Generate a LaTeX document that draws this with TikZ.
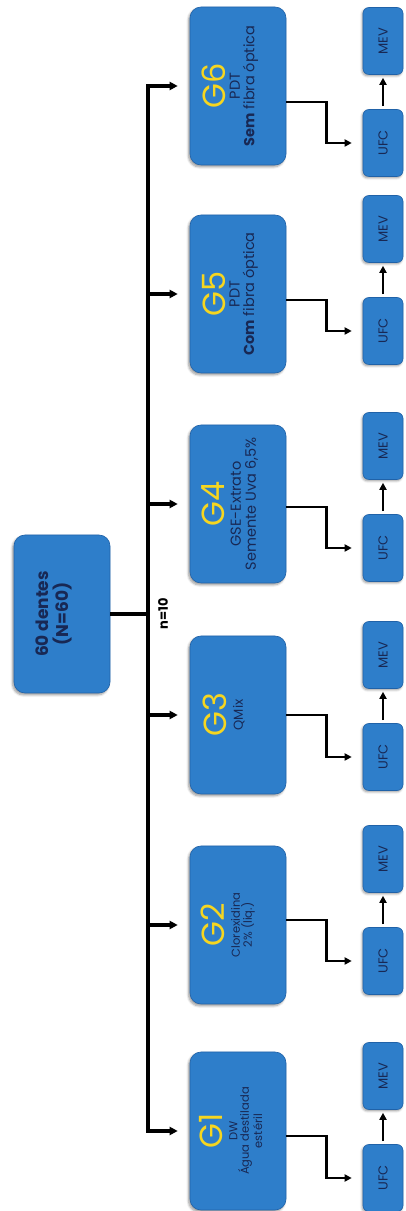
\documentclass[tikz,border=0pt]{standalone}
\usepackage{fontspec}
\setmainfont{Poppins}
\usetikzlibrary{arrows.meta}
\usetikzlibrary{shadows.blur}
\usetikzlibrary{calc}
\usepackage{xcolor}

\definecolor{boxblue}{RGB}{46,126,202}
\definecolor{boxedge}{RGB}{32,98,168}
\definecolor{navy}{RGB}{24,40,84}
\definecolor{gold}{RGB}{246,214,32}

\tikzset{
  grpbox/.style={draw=boxedge,line width=0.6pt,fill=boxblue,rounded corners=11pt,
    minimum width=158pt,minimum height=96pt,
    blur shadow={shadow xshift=-1.5pt,shadow yshift=-2pt,shadow blur steps=6}},
  smallbox/.style={draw=boxedge,line width=0.6pt,fill=boxblue,rounded corners=6pt,
    minimum width=67pt,minimum height=40pt,text=navy,
    font=\fontsize{13}{13}\selectfont,
    blur shadow={shadow xshift=-1pt,shadow yshift=-1.5pt,shadow blur steps=5}},
  grptxt/.style={text=navy,align=center,inner sep=0pt},
  arr/.style={line width=3.2pt,-{Triangle[length=8pt,width=8pt]}},
  arrsmall/.style={line width=2.6pt,-{Triangle[length=7pt,width=7pt]}}
}
\newcommand{\gtitle}[1]{\fontsize{32}{32}\selectfont\textcolor{gold}{#1}}

\begin{document}
\begin{tikzpicture}[x=1pt,y=1pt,rotate=90,transform shape]
\useasboundingbox (0,-406) rectangle (1211,0);

% root
\node[grpbox] (root) at (597,-62) {};
\node[grptxt,font=\fontsize{17}{20}\selectfont\bfseries] (rootlbl) at ([yshift=8]root.center) {60 dentes\\(N=60)};

% groups
\node[grpbox] (g1) at (80,-238) {};
\node[grpbox] (g2) at (286,-238) {};
\node[grpbox] (g3) at (496,-238) {};
\node[grpbox] (g4) at (707,-238) {};
\node[grpbox] (g5) at (917,-238) {};
\node[grpbox] (g6) at (1125,-238) {};

\node[grptxt,font=\fontsize{11.5}{11.5}\selectfont] (t1) at ([yshift=7]g1.center)
  {\gtitle{G1}\\[3pt]DW\\Água destilada\\estéril};
\node[grptxt,font=\fontsize{11.5}{12}\selectfont] (t2) at ([yshift=10]g2.center)
  {\gtitle{G2}\\[3pt]Clorexidina\\2\% (liq.)};
\node[grptxt,font=\fontsize{13}{13}\selectfont] (t3) at ([yshift=14]g3.center)
  {\gtitle{G3}\\[3pt]QMix};
\node[grptxt,font=\fontsize{14.5}{15}\selectfont] (t4) at ([yshift=8]g4.center)
  {\gtitle{G4}\\[1pt]GSE-Extrato\\Semente Uva 6,5\%};
\node[grptxt,font=\fontsize{14.5}{14.5}\selectfont] (t5) at ([yshift=8]g5.center)
  {\gtitle{G5}\\PDT\\\textbf{Com} fibra óptica};
\node[grptxt,font=\fontsize{14.5}{14.5}\selectfont] (t6) at ([yshift=8]g6.center)
  {\gtitle{G6}\\PDT\\\textbf{Sem} fibra óptica};

% UFC and MEV
\node[smallbox] (u1) at (33,-383) {UFC};
\node[smallbox] (m1) at (135,-383) {MEV};
\node[smallbox] (u2) at (250,-383) {UFC};
\node[smallbox] (m2) at (352,-383) {MEV};
\node[smallbox] (u3) at (454,-383) {UFC};
\node[smallbox] (m3) at (556,-383) {MEV};
\node[smallbox] (u4) at (663,-383) {UFC};
\node[smallbox] (m4) at (765,-383) {MEV};
\node[smallbox] (u5) at (880,-383) {UFC};
\node[smallbox] (m5) at (982,-383) {MEV};
\node[smallbox] (u6) at (1068,-383) {UFC};
\node[smallbox] (m6) at (1170,-383) {MEV};

% bus
\coordinate (bus) at (0,-148);
\draw[line width=3.2pt] (root.south) -- (root.south |- bus);
\draw[line width=3.2pt,line cap=rect] (g1.north |- bus) -- (g6.north |- bus);
\node[text=black,font=\fontsize{13}{13}\selectfont\bfseries] (nlbl) at ([yshift=-15]root.south |- bus) {n=10};

\draw[arr,shorten >=12pt] (g1.north |- bus) -- (g1.north);
\draw[arr,shorten >=12pt] (g2.north |- bus) -- (g2.north);
\draw[arr,shorten >=12pt] (g3.north |- bus) -- (g3.north);
\draw[arr,shorten >=12pt] (g4.north |- bus) -- (g4.north);
\draw[arr,shorten >=12pt] (g5.north |- bus) -- (g5.north);
\draw[arr,shorten >=12pt] (g6.north |- bus) -- (g6.north);

% to UFC
\draw[arrsmall] ([xshift=-5]g1.south) -- ++(0,-40) -| ([yshift=11]u1.north);
\draw[arrsmall] ([xshift=5]g2.south) -- ++(0,-40) -| ([yshift=11]u2.north);
\draw[arrsmall] (g3.south) -- ++(0,-40) -| ([yshift=11]u3.north);
\draw[arrsmall] ([xshift=-3]g4.south) -- ++(0,-40) -| ([yshift=11]u4.north);
\draw[arrsmall] ([xshift=-6]g5.south) -- ++(0,-40) -| ([yshift=11]u5.north);
\draw[arrsmall] ([xshift=-16]g6.south) -- ++(0,-40) -| ([yshift=11]u6.north);

% UFC to MEV
\draw[arrsmall,shorten <=3pt,shorten >=3pt] (u1.east) -- (m1.west);
\draw[arrsmall,shorten <=3pt,shorten >=3pt] (u2.east) -- (m2.west);
\draw[arrsmall,shorten <=3pt,shorten >=3pt] (u3.east) -- (m3.west);
\draw[arrsmall,shorten <=3pt,shorten >=3pt] (u4.east) -- (m4.west);
\draw[arrsmall,shorten <=3pt,shorten >=3pt] (u5.east) -- (m5.west);
\draw[arrsmall,shorten <=3pt,shorten >=3pt] (u6.east) -- (m6.west);
\end{tikzpicture}
\end{document}
